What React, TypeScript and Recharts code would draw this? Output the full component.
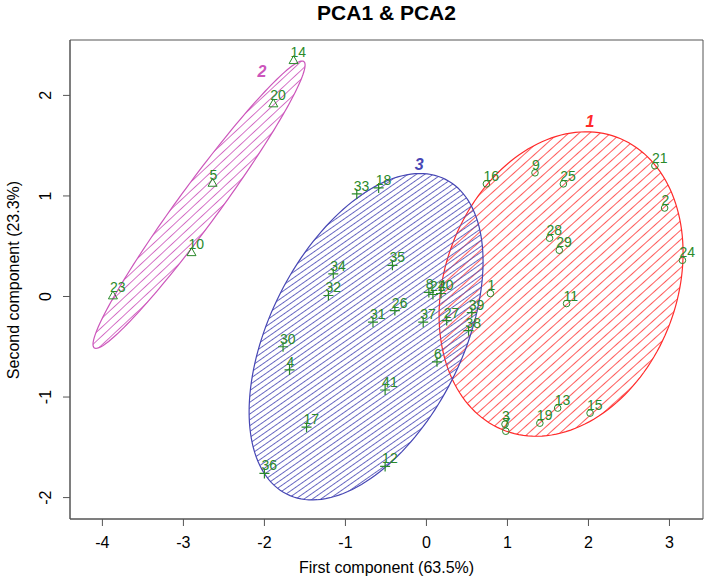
import React from 'react';
import { ScatterChart, Scatter, XAxis, YAxis, ReferenceArea } from 'recharts';

const X_DOMAIN: [number, number] = [-4.4, 3.414];
const Y_DOMAIN: [number, number] = [-2.213, 2.551];
const xTicks = [-4, -3, -2, -1, 0, 1, 2, 3];
const yTicks = [-2, -1, 0, 1, 2];

// cluster 1 (circles)
const cluster1 = [
  { id: '1', x: 0.79, y: 0.03 },
  { id: '2', x: 2.94, y: 0.88 },
  { id: '3', x: 0.97, y: -1.27 },
  { id: '7', x: 0.98, y: -1.34 },
  { id: '9', x: 1.34, y: 1.23 },
  { id: '11', x: 1.73, y: -0.07 },
  { id: '13', x: 1.62, y: -1.11 },
  { id: '15', x: 2.02, y: -1.16 },
  { id: '16', x: 0.74, y: 1.12 },
  { id: '19', x: 1.4, y: -1.26 },
  { id: '21', x: 2.82, y: 1.3 },
  { id: '24', x: 3.16, y: 0.36 },
  { id: '25', x: 1.69, y: 1.12 },
  { id: '28', x: 1.52, y: 0.58 },
  { id: '29', x: 1.64, y: 0.46 },
];

// cluster 2 (triangles)
const cluster2 = [
  { id: '5', x: -2.64, y: 1.13 },
  { id: '10', x: -2.9, y: 0.44 },
  { id: '14', x: -1.64, y: 2.35 },
  { id: '20', x: -1.89, y: 1.92 },
  { id: '23', x: -3.87, y: 0.01 },
];

// cluster 3 (plus)
const cluster3 = [
  { id: '4', x: -1.69, y: -0.73 },
  { id: '6', x: 0.13, y: -0.65 },
  { id: '8', x: 0.03, y: 0.04 },
  { id: '12', x: -0.51, y: -1.69 },
  { id: '17', x: -1.48, y: -1.3 },
  { id: '18', x: -0.59, y: 1.08 },
  { id: '22', x: 0.08, y: 0.02 },
  { id: '26', x: -0.39, y: -0.14 },
  { id: '27', x: 0.25, y: -0.24 },
  { id: '30', x: -1.77, y: -0.5 },
  { id: '31', x: -0.66, y: -0.255 },
  { id: '32', x: -1.21, y: 0.01 },
  { id: '33', x: -0.86, y: 1.02 },
  { id: '34', x: -1.15, y: 0.225 },
  { id: '35', x: -0.42, y: 0.31 },
  { id: '36', x: -2.0, y: -1.76 },
  { id: '37', x: -0.04, y: -0.255 },
  { id: '38', x: 0.52, y: -0.34 },
  { id: '39', x: 0.56, y: -0.16 },
  { id: '40', x: 0.18, y: 0.03 },
  { id: '41', x: -0.51, y: -0.93 },
];

// cluster ellipses: center, spread, correlation
const ellipseCx = [1.662, -2.807, -0.745];
const ellipseCy = [0.124, 0.913, -0.4];
const ellipseSx = [1.506, 1.309, 1.444];
const ellipseSy = [1.514, 1.429, 1.623];
const ellipseRho = [0.205, 0.972, 0.46];
const ellipseColors = ['#ff2a2a', '#cc55bb', '#4646b4'];
const hatchColors = ['#ff4a4a', '#d060c0', '#5858bb'];
const hatchAngles = [42, 43, 35];
const hatchSpacing = [7, 6.5, 4.8];

// cluster labels
const clusterLabels = [
  { id: '1', x: 2.02, y: 1.74 },
  { id: '2', x: -2.03, y: 2.24 },
  { id: '3', x: -0.09, y: 1.31 },
];

const GREEN = '#2a8a2a';
const FONT = '"Liberation Sans", Arial, Helvetica, sans-serif';

function ellipseOutline(i: number) {
  const pts: { x: number; y: number }[] = [];
  const n = 160;
  const r = ellipseRho[i];
  for (let k = 0; k <= n; k++) {
    const t = (2 * Math.PI * k) / n;
    pts.push({
      x: ellipseCx[i] + ellipseSx[i] * Math.cos(t),
      y: ellipseCy[i] + ellipseSy[i] * (r * Math.cos(t) + Math.sqrt(1 - r * r) * Math.sin(t)),
    });
  }
  return pts;
}

const makeEllipseLine = (i: number) => (props: any) => {
  const pts = props.points || [];
  const d = pts.map((p: any, k: number) => `${k ? 'L' : 'M'}${p.x},${p.y}`).join(' ') + ' Z';
  const id = `hatch${i}`;
  const s = hatchSpacing[i];
  return (
    <g>
      <defs>
        <pattern id={id} patternUnits="userSpaceOnUse" width={20} height={s} patternTransform={`rotate(${-hatchAngles[i]})`}>
          <line x1={0} y1={s / 2} x2={20} y2={s / 2} stroke={hatchColors[i]} strokeWidth={0.9} />
        </pattern>
      </defs>
      <path d={d} fill={`url(#${id})`} stroke={ellipseColors[i]} strokeWidth={1.2} />
    </g>
  );
};

const NoShape = () => <g />;

const PointLabel = ({ cx, cy, payload }: any) => (
  <text x={cx - 3} y={cy - 3} fill={GREEN} fontSize={14} fontFamily={FONT}>
    {payload.id}
  </text>
);

const CircleMark = (props: any) => (
  <g>
    <circle cx={props.cx} cy={props.cy} r={3.3} fill="none" stroke={GREEN} strokeWidth={1} />
    <PointLabel {...props} />
  </g>
);

const TriangleMark = (props: any) => {
  const { cx, cy } = props;
  const h = 4.5;
  return (
    <g>
      <path d={`M${cx},${cy - h} L${cx + h},${cy + h * 0.75} L${cx - h},${cy + h * 0.75} Z`} fill="none" stroke={GREEN} strokeWidth={1} />
      <PointLabel {...props} />
    </g>
  );
};

const PlusMark = (props: any) => {
  const { cx, cy } = props;
  const h = 5;
  return (
    <g>
      <path d={`M${cx - h},${cy} L${cx + h},${cy} M${cx},${cy - h} L${cx},${cy + h}`} stroke={GREEN} strokeWidth={1.2} />
      <PointLabel {...props} />
    </g>
  );
};

const ClusterLabel = ({ cx, cy, payload }: any) => {
  const i = Number(payload.id) - 1;
  return (
    <text x={cx} y={cy} fill={ellipseColors[i]} fontSize={16} fontWeight="bold" fontStyle="italic" fontFamily={FONT} textAnchor="middle" dominantBaseline="central">
      {payload.id}
    </text>
  );
};

const YTick = ({ x, y, payload }: any) => (
  <text x={x - 12} y={y} transform={`rotate(-90, ${x - 12}, ${y})`} textAnchor="middle" fontSize={16} fontFamily={FONT} fill="#000">
    {payload.value}
  </text>
);

export default function App() {
  return (
    <div style={{ position: 'absolute', left: 0, top: 0, width: 708, height: 582, background: '#fff', fontFamily: FONT }}>
      <div style={{ position: 'absolute', left: 70, width: 633, top: 1, textAlign: 'center', fontSize: 21, fontWeight: 'bold', color: '#000' }}>
        PCA1 &amp; PCA2
      </div>
      <div style={{ position: 'absolute', left: 70, width: 633, top: 559, textAlign: 'center', fontSize: 16, color: '#000' }}>
        First component (63.5%)
      </div>
      <div
        style={{
          position: 'absolute',
          left: 14 - 150,
          top: 279.5 - 10,
          width: 300,
          height: 20,
          lineHeight: '20px',
          textAlign: 'center',
          fontSize: 16,
          color: '#000',
          transform: 'rotate(-90deg)',
        }}
      >
        Second component (23.3%)
      </div>
      <div style={{ position: 'absolute', left: 0, top: 0 }}>
        <ScatterChart width={708} height={582} margin={{ top: 40, right: 5, bottom: 0, left: 0 }}>
          <XAxis
            dataKey="x"
            type="number"
            domain={X_DOMAIN}
            ticks={xTicks}
            allowDataOverflow
            height={63}
            tickSize={7}
            tickMargin={11}
            stroke="#555"
            tick={{ fill: '#000', fontSize: 16, fontFamily: FONT }}
          />
          <YAxis
            dataKey="y"
            type="number"
            domain={Y_DOMAIN}
            ticks={yTicks}
            allowDataOverflow
            width={70}
            tickSize={7}
            tickMargin={0}
            stroke="#555"
            tick={<YTick />}
          />
          <ReferenceArea x1={X_DOMAIN[0]} x2={X_DOMAIN[1]} y1={Y_DOMAIN[0]} y2={Y_DOMAIN[1]} fill="none" stroke="#555" strokeWidth={1} fillOpacity={0} />
          {[0, 1, 2].map((i) => (
            <Scatter
              key={`ell${i}`}
              data={ellipseOutline(i)}
              shape={NoShape}
              line={makeEllipseLine(i)}
              lineType="joint"
              isAnimationActive={false}
            />
          ))}
          <Scatter data={clusterLabels} shape={ClusterLabel} isAnimationActive={false} />
          <Scatter data={cluster1} shape={CircleMark} isAnimationActive={false} />
          <Scatter data={cluster2} shape={TriangleMark} isAnimationActive={false} />
          <Scatter data={cluster3} shape={PlusMark} isAnimationActive={false} />
        </ScatterChart>
      </div>
    </div>
  );
}
